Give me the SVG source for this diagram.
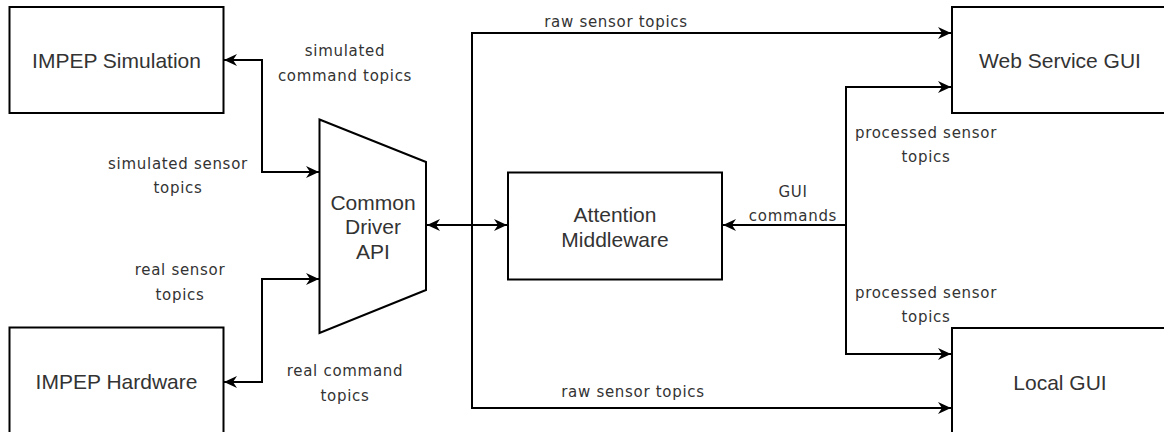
<svg xmlns="http://www.w3.org/2000/svg" width="1164" height="432" viewBox="0 0 1164 432">
  <style>
    .box { fill: #ffffff; stroke: #000000; stroke-width: 2; }
    .edge { fill: none; stroke: #000000; stroke-width: 2; }
    .both { marker-start: url(#arrow); marker-end: url(#arrow); }
    .end { marker-end: url(#arrow); }
    .node-label { font-family: "Liberation Sans", Arial, sans-serif; font-size: 21px; fill: #333333; text-anchor: middle; }
    .edge-label { font-family: "DejaVu Sans", Verdana, sans-serif; font-size: 15px; letter-spacing: 0.7px; fill: #333333; text-anchor: middle; }
  </style>
  <defs>
    <!-- classic notched arrowhead, tip at the path end -->
    <marker id="arrow" viewBox="-14 -7 15 14" refX="0" refY="0" markerWidth="15" markerHeight="14" markerUnits="userSpaceOnUse" orient="auto-start-reverse">
      <path d="M0,0 L-13,-6 L-9,0 L-13,6 Z" fill="#000000"/>
    </marker>
  </defs>
  <rect width="1164" height="432" fill="#ffffff"/>

  <!-- connectors -->
  <g id="connectors">
    <path class="edge both" d="M319,172 H262 V60 H224"/>
    <path class="edge both" d="M319,279 H262 V382 H224"/>
    <path class="edge both" d="M427,225 H507"/>
    <path class="edge end" d="M472,225 V33 H951"/>
    <path class="edge end" d="M472,225 V408 H951"/>
    <path class="edge end" d="M846,225 H723"/>
    <path class="edge end" d="M846,225 V87 H951"/>
    <path class="edge end" d="M846,225 V354 H951"/>
  </g>

  <!-- connector labels -->
  <g id="edge-labels">
    <text class="edge-label" x="345" y="56">simulated</text>
    <text class="edge-label" x="345" y="80.5">command topics</text>
    <text class="edge-label" x="178" y="168.5">simulated sensor</text>
    <text class="edge-label" x="178" y="193">topics</text>
    <text class="edge-label" x="180" y="275">real sensor</text>
    <text class="edge-label" x="180" y="300">topics</text>
    <text class="edge-label" x="345" y="376">real command</text>
    <text class="edge-label" x="345" y="401">topics</text>
    <text class="edge-label" x="616" y="27">raw sensor topics</text>
    <text class="edge-label" x="633" y="397">raw sensor topics</text>
    <text class="edge-label" x="793" y="196.5">GUI</text>
    <text class="edge-label" x="793" y="220.5">commands</text>
    <text class="edge-label" x="926" y="137.5">processed sensor</text>
    <text class="edge-label" x="926" y="162">topics</text>
    <text class="edge-label" x="926" y="297.5">processed sensor</text>
    <text class="edge-label" x="926" y="322">topics</text>
  </g>

  <g id="impep-simulation">
    <rect class="box" x="9.5" y="7" width="214" height="106"/>
    <text class="node-label" x="116.5" y="68">IMPEP Simulation</text>
  </g>

  <g id="impep-hardware">
    <rect class="box" x="9.5" y="327.5" width="214" height="110"/>
    <text class="node-label" x="116.5" y="388.5">IMPEP Hardware</text>
  </g>

  <g id="common-driver-api">
    <polygon class="box" points="319.5,119.5 426,162 426,290 319.5,333"/>
    <text class="node-label" x="373" y="209.5">Common</text>
    <text class="node-label" x="373" y="234">Driver</text>
    <text class="node-label" x="373" y="258.5">API</text>
  </g>

  <g id="attention-middleware">
    <rect class="box" x="508" y="172.5" width="214" height="107"/>
    <text class="node-label" x="615" y="222">Attention</text>
    <text class="node-label" x="615" y="246.5">Middleware</text>
  </g>

  <g id="web-service-gui">
    <rect class="box" x="952" y="7" width="220" height="106"/>
    <text class="node-label" x="1060" y="68">Web Service GUI</text>
  </g>

  <g id="local-gui">
    <rect class="box" x="952" y="328" width="220" height="110"/>
    <text class="node-label" x="1060" y="389.5">Local GUI</text>
  </g>
</svg>
